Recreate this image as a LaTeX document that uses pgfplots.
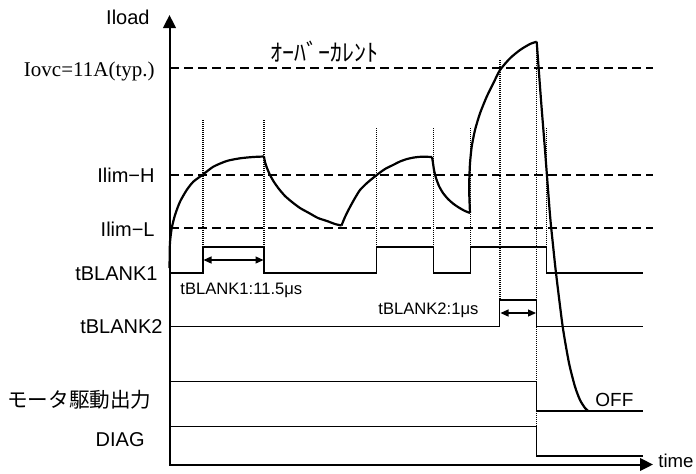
\documentclass[border=0pt]{standalone}
\usepackage{pgfplots}
\pgfplotsset{compat=1.18}
\usetikzlibrary{arrows.meta}
\usepackage{fontspec}
\setmainfont{Liberation Sans}
\newfontfamily\cjk{Noto Sans CJK JP}
\newfontfamily\serif{Liberation Serif}
\begin{document}
\begin{tikzpicture}
\begin{axis}[
  scale only axis, width=348pt, height=236.5pt,
  xmin=0, xmax=696, ymin=0, ymax=473, y dir=reverse,
  hide axis, clip=false, at={(0,0)}, anchor=south west,
  every axis plot/.append style={black},
]
% dashed reference levels
\addplot[line width=0.65pt, dash pattern=on 4.5pt off 2.5pt] coordinates {(170,68) (653,68)};
\addplot[line width=0.6pt, dash pattern=on 4.5pt off 2.5pt] coordinates {(170,175) (653,175)};
\addplot[line width=0.6pt, dash pattern=on 4.5pt off 2.5pt] coordinates {(170,228) (653,228)};
% dotted verticals
\pgfplotsinvokeforeach{203,264}{\addplot[line width=0.6pt, dash pattern=on 0.5pt off 0.5pt] coordinates {(#1,120) (#1,247)};}
\pgfplotsinvokeforeach{376.7,433.3,470.3,546.7}{\addplot[line width=0.6pt, dash pattern=on 0.5pt off 0.5pt] coordinates {(#1,128) (#1,247)};}
\addplot[line width=0.6pt, dash pattern=on 0.5pt off 0.5pt] coordinates {(500,60) (500,300)};
\addplot[line width=0.6pt, dash pattern=on 0.5pt off 0.5pt] coordinates {(536.7,45) (536.7,456)};
% signals
\addplot[line width=0.6pt] coordinates {(170,273) (203,273) (203,247) (264,247) (264,273) (376.7,273) (376.7,247) (433.3,247) (433.3,273) (470.3,273) (470.3,247) (546.7,247) (546.7,273) (643,273)};
\addplot[line width=0.6pt] coordinates {(170,326.7) (499.3,326.7) (499.3,300) (536.2,300) (536.2,326.7) (643,326.7)};
\addplot[line width=0.6pt] coordinates {(170,381.7) (536.7,381.7) (536.7,411) (643,411)};
\addplot[line width=0.6pt] coordinates {(170,426.7) (536.7,426.7) (536.7,456) (643,456)};
% blanking arrows
\addplot[line width=0.6pt, {Triangle[length=4pt,width=3.5pt]}-{Triangle[length=4pt,width=3.5pt]}] coordinates {(203.5,260) (263.5,260)};
\addplot[line width=0.6pt, {Triangle[length=4pt,width=3.5pt]}-{Triangle[length=4pt,width=3.5pt]}] coordinates {(500.5,313) (536,313)};
% load current
\addplot[line width=1.1pt, smooth, tension=0.4] coordinates {(169.5,268) (169.7,255) (170,242) (171.7,228.3) (175,215) (180,201.7) (186.7,190) (193.3,181.7) (202.3,175) (213.3,166.7) (226.7,161) (240,158.3) (253,157) (264,156.5)};
\addplot[line width=1.1pt, smooth, tension=0.4] coordinates {(264,156.5) (265,162) (267,168) (270,175) (274,182) (279,189) (285,196) (292,202) (300,208) (309,213) (318,218) (327,221) (335,224) (341.5,225.5)};
\addplot[line width=1.1pt, smooth, tension=0.4] coordinates {(341.5,225.5) (345,217) (350,207) (355,198) (360,190) (367,183) (376.7,175) (385,169) (393,165) (400,161.5) (407,159) (414,157.5) (422,156.7) (432,157)};
\addplot[line width=1.1pt, smooth, tension=0.4] coordinates {(432,157) (433,163) (434,170) (436,178) (439,186) (443,193) (448,199) (453,203.5) (458,207) (464,210.5) (470,213)};
\addplot[line width=1.1pt, smooth, tension=0.4] coordinates {(470,213) (469.3,195) (469.3,180) (470,163.3) (471.7,146.7) (475,130) (480,113.3) (486.7,96.7) (493.3,83.3) (500,70) (510,58.3) (520,50) (530,44) (536.7,41.7)};
\addplot[line width=1.1pt, smooth, tension=0.4] coordinates {(536.7,41.7) (541,100) (545,150) (550,215) (553,245) (556,273) (562.7,326.7) (569,363) (575,386.7) (580,400) (585,408) (588.3,411)};
% axes
\addplot[line width=1pt, -{Triangle[length=6.5pt,width=6.3pt]}] coordinates {(169.5,465) (169.5,15)};
\addplot[line width=1pt, -{Triangle[length=6.5pt,width=6.3pt]}] coordinates {(169,464.5) (653,464.5)};
% labels
\fontsize{10}{12}\selectfont
\node[anchor=base east, inner sep=0pt] at (axis cs:150,24) {Iload};
\node[anchor=base east, inner sep=0pt, font={\serif\fontsize{10.5}{12}\selectfont}] at (axis cs:155,76.5) {Iovc=11A(typ.)};
\node[anchor=base east, inner sep=0pt] at (axis cs:155,182.7) {Ilim−H};
\node[anchor=base east, inner sep=0pt] at (axis cs:155,236) {Ilim−L};
\node[anchor=base east, inner sep=0pt] at (axis cs:158,280) {tBLANK1};
\node[anchor=base east, inner sep=0pt] at (axis cs:163,333.3) {tBLANK2};
\node[anchor=east, inner sep=0pt, font={\cjk\fontsize{10.3}{12}\selectfont}] at (axis cs:152,400) {モータ駆動出力};
\node[anchor=base east, inner sep=0pt] at (axis cs:145,446) {DIAG};
\node[anchor=west, inner sep=0pt, font={\cjk\fontsize{12}{14}\selectfont}] at (axis cs:270,52) {ｵｰﾊﾞｰｶﾚﾝﾄ};
\node[anchor=base west, inner sep=0pt, font={\fontsize{8.3}{10}\selectfont}] at (axis cs:180,294) {tBLANK1:11.5μs};
\node[anchor=base west, inner sep=0pt, font={\fontsize{8.3}{10}\selectfont}] at (axis cs:378,314) {tBLANK2:1μs};
\node[anchor=base west, inner sep=0pt, font={\fontsize{9.5}{11}\selectfont}] at (axis cs:595,406.7) {OFF};
\node[anchor=base west, inner sep=0pt, font={\fontsize{9.3}{11}\selectfont}] at (axis cs:658,467.5) {time};
\end{axis}
\pgfresetboundingbox
\path[use as bounding box] (0,0) rectangle (348pt,236.5pt);
\end{tikzpicture}
\end{document}
